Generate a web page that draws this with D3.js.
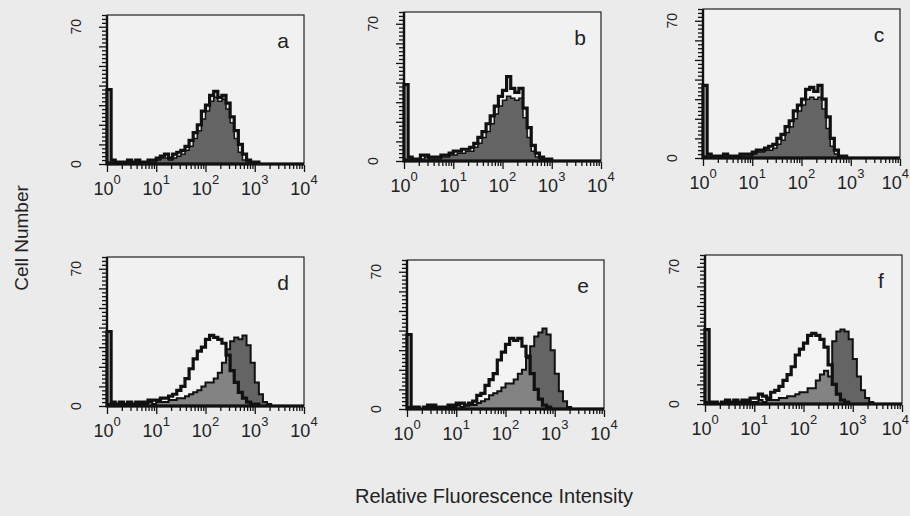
<!DOCTYPE html>
<html>
<head>
<meta charset="utf-8">
<script src="https://cdn.jsdelivr.net/npm/d3@7"></script>
<style>
  body { margin: 0; background: #ebebeb; }
  text { font-family: "Liberation Sans", Arial, sans-serif; fill: #222; }
</style>
</head>
<body>
<svg id="chart" width="910" height="516"></svg>
<script>
// histogram channels: 12 bins per decade, 10^0 .. 10^4 (48 bins)
var binsPerDecade = 12;
var panelNames = ["a", "b", "c", "d", "e", "f"];
var yTickLabels = [0, 70];
var xDecades = [0, 1, 2, 3, 4];

// open (control) histograms, cell counts per bin
var ctrlA = [38,2,1,1,1,2,1,2,1,1,2,2,3,4,5,3,5,6,7,9,12,16,20,27,30,35,37,34,35,31,24,17,10,5,2,1,1,0,0,0,0,0,0,0,0,0,0,0];
var ctrlB = [39,2,1,1,3,3,2,2,2,3,3,4,5,5,6,6,7,9,12,15,19,23,28,33,36,43,37,35,37,27,17,8,4,2,1,1,0,0,0,0,0,0,0,0,0,0,0,0];
var ctrlC = [37,2,1,1,1,2,1,1,1,2,2,2,3,4,4,5,6,7,10,12,16,19,24,27,30,35,36,34,37,30,21,10,4,1,1,0,0,0,0,0,0,0,0,0,0,0,0,0];
var ctrlD = [38,2,1,2,1,2,1,2,2,2,3,3,3,4,4,5,6,8,10,14,19,24,28,30,34,36,35,34,32,26,18,12,7,4,2,1,1,0,0,0,0,0,0,0,0,0,0,0];
var ctrlE = [38,1,1,0,1,2,2,1,1,1,2,2,3,3,2,3,4,7,8,12,15,18,25,29,33,36,35,36,32,27,18,10,5,2,1,0,0,0,0,0,0,0,0,0,0,0,0,0];
var ctrlF = [38,1,1,0,1,2,1,2,1,2,2,3,3,5,4,3,6,7,9,12,15,19,25,28,31,35,36,35,33,29,20,10,5,2,1,0,0,0,0,0,0,0,0,0,0,0,0,0];

// filled (stained) histograms
var sampA = [1,1,0,0,1,1,0,1,0,1,1,1,2,3,3,2,3,4,5,7,9,13,17,23,27,32,34,32,33,28,21,13,6,2,1,0,0,0,0,0,0,0,0,0,0,0,0,0];
var sampB = [1,1,0,0,1,2,1,1,1,2,2,3,3,4,4,5,5,7,9,12,15,19,24,28,31,33,32,31,32,22,12,5,2,1,0,0,0,0,0,0,0,0,0,0,0,0,0,0];
var sampC = [1,1,0,0,0,1,0,0,1,1,1,1,2,3,3,4,4,5,7,9,13,16,20,24,27,30,31,30,31,25,15,6,2,0,0,0,0,0,0,0,0,0,0,0,0,0,0,0];
var sampD = [1,1,0,1,1,1,1,1,1,1,2,1,2,2,2,3,3,4,4,5,6,7,8,10,12,12,14,17,22,29,33,35,34,36,31,22,12,6,2,1,0,0,0,0,0,0,0,0];
var sampE = [1,1,0,0,0,1,1,0,1,1,1,1,2,1,2,2,2,3,4,5,7,8,9,11,13,13,15,18,20,26,32,37,39,41,38,30,18,9,4,1,0,0,0,0,0,0,0,0];
var sampF = [1,0,1,0,0,1,0,1,0,1,1,1,1,2,1,2,2,2,3,3,4,4,5,6,6,8,8,12,15,17,14,32,37,38,37,33,23,14,7,3,1,0,0,0,0,0,0,0];

var ctrlData = [ctrlA, ctrlB, ctrlC, ctrlD, ctrlE, ctrlF];
var sampData = [sampA, sampB, sampC, sampD, sampE, sampF];

// panel frames (left, top) on the page
var frames = [[107,15],[404,12],[703,9],[107,257],[407,260],[705,255]];
var pw = 197, ph = 149;

var svg = d3.select("#chart");

var x = d3.scaleLog().domain([1, 1e4]).range([0, pw]);
var y = d3.scaleLinear().domain([0, 76]).range([ph, 0]);

function toPoints(vals) {
  var pts = vals.map(function(v, i) { return [Math.pow(10, i / binsPerDecade), v]; });
  pts.push([1e4, vals[vals.length - 1]]);
  return pts;
}

var area = d3.area()
  .curve(d3.curveStepAfter)
  .x(function(d) { return x(d[0]); })
  .y0(ph)
  .y1(function(d) { return y(d[1]); });

// minor + major log ticks
var xTicks = [];
xDecades.forEach(function(p) {
  if (p < 4) { for (var k = 1; k < 10; k++) xTicks.push(k * Math.pow(10, p)); }
  else xTicks.push(1e4);
});

panelNames.forEach(function(name, idx) {
  var left = frames[idx][0];
  var g = svg.append("g")
    .attr("transform", "translate(" + left + "," + frames[idx][1] + ")");

  g.append("rect")
    .attr("width", pw).attr("height", ph)
    .attr("fill", "#f1f1f1").attr("stroke", "#222").attr("stroke-width", 1.2);

  var sampPts = toPoints(sampData[idx]);
  var ctrlPts = toPoints(ctrlData[idx]);

  // filled histogram
  g.append("path").datum(sampPts).attr("d", area)
    .attr("fill", "#646464");

  // open histogram, faint white so it lightens what it covers (lower row)
  if (idx >= 3) {
    g.append("path").datum(ctrlPts).attr("d", area)
      .attr("fill", "#ffffff").attr("fill-opacity", 0.2);
  }

  // outlines
  g.append("path").datum(sampPts).attr("d", area)
    .attr("fill", "none").attr("stroke", "#111")
    .attr("stroke-width", idx < 3 ? 1.5 : 2);
  g.append("path").datum(ctrlPts).attr("d", area)
    .attr("fill", "none").attr("stroke", "#111")
    .attr("stroke-width", 3.2);

  // thick left and bottom axis lines
  g.append("line").attr("x1", 0).attr("x2", 0).attr("y1", 0).attr("y2", ph)
    .attr("stroke", "#111").attr("stroke-width", 2.4);
  g.append("line").attr("x1", 0).attr("x2", pw).attr("y1", ph).attr("y2", ph)
    .attr("stroke", "#111").attr("stroke-width", 2.4);

  // y axis ticks
  var yAx = g.append("g").attr("transform", "translate(-1,0)")
    .call(d3.axisLeft(y).tickValues(d3.range(0, 77, 2)).tickSize(4).tickFormat(""));
  yAx.select(".domain").remove();
  yAx.selectAll(".tick line")
    .attr("stroke", "#111").attr("stroke-width", 1.3)
    .attr("x2", function(d) { return d % 10 === 0 ? -7 : -4; });

  yTickLabels.forEach(function(v) {
    g.append("text")
      .attr("transform", "translate(-26," + y(v) + ") rotate(-90)")
      .attr("text-anchor", "middle")
      .attr("font-size", 14)
      .text(v);
  });

  // x axis ticks
  var xAx = g.append("g").attr("transform", "translate(0," + (ph + 1) + ")")
    .call(d3.axisBottom(x).tickValues(xTicks).tickSize(3).tickFormat(""));
  xAx.select(".domain").remove();
  xAx.selectAll(".tick line")
    .attr("stroke", "#111").attr("stroke-width", 1.3)
    .attr("y2", function(d) { return Math.abs(Math.log10(d) % 1) < 1e-9 ? 7 : 4; });

  xDecades.forEach(function(p) {
    var tx = x(Math.pow(10, p));
    var anchor = "middle";
    // keep the last label inside the page on the right-hand panels
    if (left + tx + 15 > 910) { tx = 909 - left; anchor = "end"; }
    var t = g.append("text")
      .attr("x", tx)
      .attr("y", ph + 31)
      .attr("text-anchor", anchor)
      .attr("font-size", 18);
    t.append("tspan").text("10");
    t.append("tspan").attr("font-size", 13).attr("dy", -11).text(p);
  });

  g.append("text")
    .attr("x", pw - 21).attr("y", 33)
    .attr("text-anchor", "middle")
    .attr("font-size", 21)
    .text(name);
});

svg.append("text")
  .attr("transform", "translate(28,238) rotate(-90)")
  .attr("text-anchor", "middle")
  .attr("font-size", 19)
  .text("Cell Number");

svg.append("text")
  .attr("x", 494).attr("y", 503)
  .attr("text-anchor", "middle")
  .attr("font-size", 20)
  .text("Relative Fluorescence Intensity");
</script>
</body>
</html>
